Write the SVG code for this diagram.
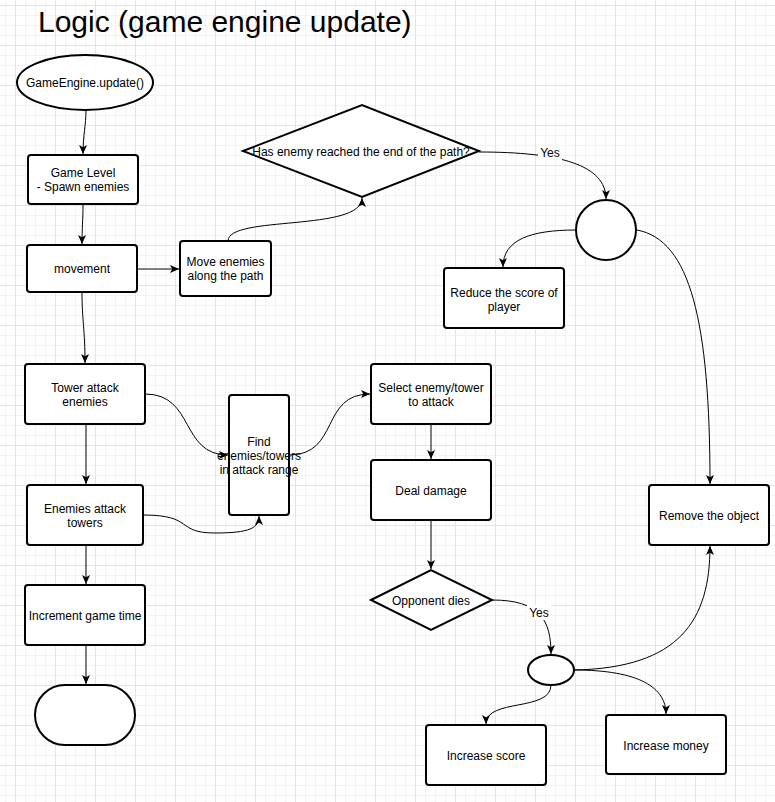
<svg xmlns="http://www.w3.org/2000/svg" width="775" height="802" viewBox="0 0 775 802">
<defs>
<pattern id="minor" patternUnits="userSpaceOnUse" x="5" y="5" width="10" height="10">
<rect x="0" y="0" width="10" height="1" fill="#f3f3f3"/>
<rect x="0" y="0" width="1" height="10" fill="#f3f3f3"/>
</pattern>
<pattern id="major" patternUnits="userSpaceOnUse" x="15" y="5" width="40" height="40">
<rect x="0" y="0" width="40" height="1" fill="#e4e4e4"/>
<rect x="0" y="0" width="1" height="40" fill="#e4e4e4"/>
</pattern>
<marker id="arr" markerUnits="userSpaceOnUse" markerWidth="10" markerHeight="10" refX="9" refY="4" orient="auto" overflow="visible">
<path d="M0,0 L9,4 L0,8 L2.2,4 Z" fill="#000"/>
</marker>
</defs>
<style>
.box{fill:#fff;stroke:#000;stroke-width:2}
.t{font-family:"Liberation Sans",Arial,sans-serif;font-size:12px;fill:#000;text-anchor:middle}
.c{fill:none;stroke:#000;stroke-width:1;marker-end:url(#arr)}
.lbl{fill:#fff}
</style>
<rect width="775" height="802" fill="#fff"/>
<rect width="775" height="802" fill="url(#minor)"/>
<rect width="775" height="802" fill="url(#major)"/>
<text x="38" y="32" style="font-family:'Liberation Sans',Arial,sans-serif;font-size:30px;fill:#000">Logic (game engine update)</text>

<g id="connectors">
<path class="c" d="M86,110 C86,125 83,135 83,154"/>
<path class="c" d="M83,205 C83,220 82,228 82,244"/>
<path class="c" d="M137,269 L179,269"/>
<path class="c" d="M228,241 C228,215 362,232 362,198"/>
<path class="c" d="M479,152 C560,152 606,165 606,199"/>
<path class="c" d="M576,230 C530,230 503,240 503,267"/>
<path class="c" d="M637,230 C690,240 710,320 710,484"/>
<path class="c" d="M82,292 C82,320 85,330 85,363"/>
<path class="c" d="M86,424 L86,484"/>
<path class="c" d="M145,394 C195,394 180,455 228,455"/>
<path class="c" d="M143,515 C195,515 175,533 215,533 C250,533 259,528 259,516"/>
<path class="c" d="M289,455 C340,455 320,394 370,394"/>
<path class="c" d="M431,424 L431,459"/>
<path class="c" d="M431,520 L431,569"/>
<path class="c" d="M492,600 C540,600 551,620 551,654"/>
<path class="c" d="M551,685 C551,712 486,698 486,724"/>
<path class="c" d="M574,670 C640,670 666,688 666,714"/>
<path class="c" d="M574,670 C680,668 710,620 710,546"/>
<path class="c" d="M86,545 L86,584"/>
<path class="c" d="M86,645 L86,684"/>
<rect class="lbl" x="538" y="145" width="24" height="15"/>
<text class="t" x="550" y="157">Yes</text>
<rect class="lbl" x="527" y="605" width="24" height="15"/>
<text class="t" x="539" y="617">Yes</text>
</g>

<g id="start">
<ellipse class="box" cx="85" cy="82.5" rx="68" ry="27.5"/>
<text class="t" x="85" y="87">GameEngine.update()</text>
</g>
<g id="gamelevel">
<rect class="box" x="28" y="155" width="110" height="49" rx="3"/>
<text class="t" x="83" y="177">Game Level</text>
<text class="t" x="83" y="191">- Spawn enemies</text>
</g>
<g id="movement">
<rect class="box" x="27" y="245" width="110" height="47" rx="3"/>
<text class="t" x="82" y="273">movement</text>
</g>
<g id="moveenemies">
<rect class="box" x="180" y="241" width="91" height="55" rx="3"/>
<text class="t" x="225.5" y="266">Move enemies</text>
<text class="t" x="225.5" y="280">along the path</text>
</g>
<g id="reachedend">
<polygon class="box" points="243,151 362,105 479,151 362,197"/>
<text class="t" x="361" y="156">Has enemy reached the end of the path?</text>
</g>
<g id="circle">
<circle class="box" cx="606" cy="230" r="30"/>
</g>
<g id="reducescore">
<rect class="box" x="444" y="268" width="120" height="60" rx="3"/>
<text class="t" x="504" y="297">Reduce the score of</text>
<text class="t" x="504" y="311">player</text>
</g>
<g id="removeobject">
<rect class="box" x="649" y="485" width="120" height="60" rx="3"/>
<text class="t" x="709" y="520">Remove the object</text>
</g>
<g id="towerattack">
<rect class="box" x="25" y="364" width="120" height="60" rx="3"/>
<text class="t" x="85" y="392">Tower attack</text>
<text class="t" x="85" y="406">enemies</text>
</g>
<g id="enemiesattack">
<rect class="box" x="27" y="485" width="116" height="60" rx="3"/>
<text class="t" x="85" y="513">Enemies attack</text>
<text class="t" x="85" y="527">towers</text>
</g>
<g id="find">
<rect class="box" x="229" y="395" width="60" height="120" rx="3"/>
<text class="t" x="259" y="446">Find</text>
<text class="t" x="259" y="460">enemies/towers</text>
<text class="t" x="259" y="474">in attack range</text>
</g>
<g id="select">
<rect class="box" x="371" y="364" width="120" height="60" rx="3"/>
<text class="t" x="431" y="392">Select enemy/tower</text>
<text class="t" x="431" y="406">to attack</text>
</g>
<g id="deal">
<rect class="box" x="371" y="460" width="120" height="60" rx="3"/>
<text class="t" x="431" y="495">Deal damage</text>
</g>
<g id="opponentdies">
<polygon class="box" points="371,600 431,570 492,600 431,630"/>
<text class="t" x="431" y="605">Opponent dies</text>
</g>
<g id="smallellipse">
<ellipse class="box" cx="551" cy="670" rx="23" ry="15"/>
</g>
<g id="increasescore">
<rect class="box" x="426" y="725" width="120" height="60" rx="3"/>
<text class="t" x="486" y="760">Increase score</text>
</g>
<g id="increasemoney">
<rect class="box" x="606" y="715" width="120" height="59" rx="3"/>
<text class="t" x="666" y="750">Increase money</text>
</g>
<g id="incrementtime">
<rect class="box" x="25" y="585" width="120" height="60" rx="3"/>
<text class="t" x="85" y="620">Increment game time</text>
</g>
<g id="end">
<rect class="box" x="35" y="685" width="100" height="60" rx="30"/>
</g>
</svg>
